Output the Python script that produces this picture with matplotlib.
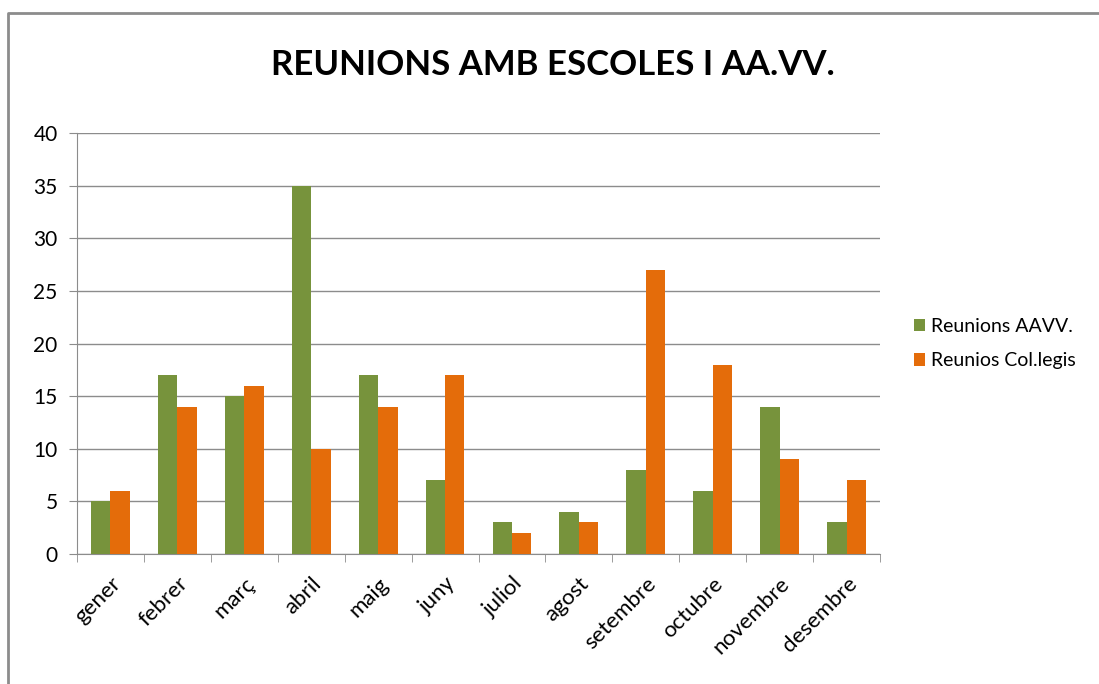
import numpy as np
import matplotlib.pyplot as plt
from matplotlib.lines import Line2D

plt.rcParams['font.family'] = ['Lato', 'DejaVu Sans']

months = ['gener', 'febrer', 'març', 'abril', 'maig', 'juny', 'juliol',
          'agost', 'setembre', 'octubre', 'novembre', 'desembre']
aavv = [5, 17, 15, 35, 17, 7, 3, 4, 8, 6, 14, 3]
collegis = [6, 14, 16, 10, 14, 17, 2, 3, 27, 18, 9, 7]

green = '#77933C'
orange = '#E46C0A'

fig = plt.figure(figsize=(10.99, 6.84), dpi=100)
ax = fig.add_axes([0.0701, 0.190, 0.7306, 0.6155])

x = np.arange(len(months))
w = 0.29
ax.bar(x - w / 2, aavv, w, color=green, label='Reunions AAVV.', zorder=3)
ax.bar(x + w / 2, collegis, w, color=orange, label='Reunios Col.legis', zorder=3)

ax.set_xlim(-0.5, len(months) - 0.5)
ax.set_ylim(0, 40)
ax.set_yticks(range(0, 41, 5))
ax.yaxis.grid(True, color='#8c8c8c', linewidth=1, zorder=0)

ax.set_xticks(x)
ax.set_xticklabels(months, rotation=45, ha='right', rotation_mode='anchor', fontsize=16)
ax.set_xticks(np.arange(-0.5, len(months), 1), minor=True)
ax.tick_params(axis='x', which='major', length=0, pad=14)
ax.tick_params(axis='x', which='minor', length=6, color='#8c8c8c')
ax.tick_params(axis='y', length=6, color='#8c8c8c', labelsize=15, pad=8)

for s in ['top', 'right']:
    ax.spines[s].set_visible(False)
for s in ['left', 'bottom']:
    ax.spines[s].set_color('#8c8c8c')

fig.text(0.503, 0.905, 'REUNIONS AMB ESCOLES I AA.VV.', ha='center', va='center',
         fontsize=25, fontweight='bold')

ax.legend(loc='center left', bbox_to_anchor=(1.02, 0.5), frameon=False,
          fontsize=14, handlelength=0.6, handleheight=0.6, handletextpad=0.3,
          labelspacing=0.9)

bx = 8 / 1099
by = 1 - 13 / 684
fig.add_artist(Line2D([bx, bx, 1], [0, by, by], transform=fig.transFigure,
                      color='#8c8c8c', linewidth=2))

fig.savefig('out.png', dpi=100)
